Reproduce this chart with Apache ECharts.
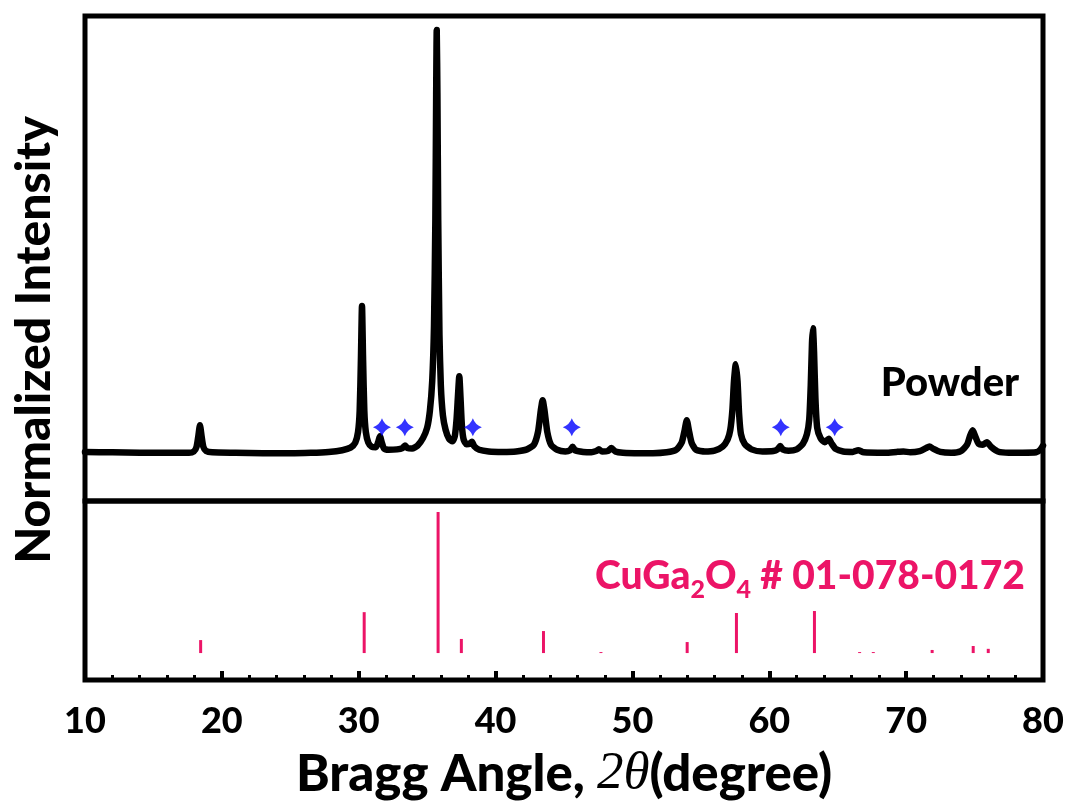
<!DOCTYPE html>
<html>
<head>
<meta charset="utf-8">
<title>XRD CuGa2O4 powder</title>
<script src="https://cdn.jsdelivr.net/npm/echarts@6.0.0/dist/echarts.min.js"></script>
<style>
  html, body { margin: 0; padding: 0; background: #fff; }
  #main { width: 1072px; height: 812px; }
</style>
</head>
<body>
<div id="main"></div>
<script>
// measured powder scan, [2theta, normalized intensity]
let powderScan = [
    [10,0.3],[12,0.2],[14,0.1],[16,0.1],[17.6,0.1],[17.95,0.4],[18.15,1.5],[18.28,4],[18.4,6.6],[18.52,4],
    [18.65,1.5],[18.85,0.5],[19.3,0.2],[21,0.1],[23,0],[25,0],[26.5,0.1],[27.8,0.3],[28.8,0.7],[29.4,1.3],
    [29.75,2.5],[29.95,5],[30.07,10],[30.16,22],[30.24,34.8],[30.32,22],[30.41,10],[30.52,5],[30.7,2.5],[30.95,1.5],
    [31.25,1.4],[31.42,2.6],[31.55,4],[31.68,2.6],[31.85,1.1],[32.2,0.8],[32.8,0.9],[33.2,1.2],[33.38,1.8],[33.56,1.2],
    [33.9,1.1],[34.3,1.8],[34.7,3.6],[35.0,6],[35.2,10],[35.37,17],[35.5,30],[35.6,55],[35.66,85],[35.7,100],
    [35.75,85],[35.81,55],[35.9,28],[36.0,16],[36.15,9],[36.35,5.5],[36.6,3.4],[36.85,2.8],[37.02,4],[37.15,8],
    [37.26,14],[37.35,18.2],[37.44,13],[37.54,6.5],[37.67,3.2],[37.88,2.1],[38.1,2.2],[38.27,2.7],[38.45,1.6],[38.8,0.8],
    [39.5,0.4],[40.5,0.3],[41.5,0.4],[42.3,0.9],[42.8,2],[43.1,5],[43.3,10],[43.44,12.5],[43.58,10],[43.78,5],
    [44.05,2],[44.5,0.8],[45.1,0.4],[45.45,0.7],[45.63,1.5],[45.8,0.7],[46.4,0.3],[47.0,0.2],[47.35,0.5],[47.55,0.9],
    [47.78,0.4],[48.2,0.5],[48.47,1.2],[48.75,0.4],[49.3,0.1],[50.5,0],[51.5,0],[52.5,0.2],[53.2,0.8],[53.6,2.5],
    [53.82,5.5],[53.97,7.8],[54.12,5.5],[54.32,2.5],[54.65,0.8],[55.3,0.4],[56.0,0.6],[56.6,1.6],[56.95,3.2],[57.15,5.5],
    [57.3,10],[57.42,17],[57.55,21],[57.68,17],[57.8,9],[57.93,4.5],[58.2,2.2],[58.7,0.9],[59.5,0.4],[60.3,0.5],
    [60.6,0.9],[60.8,1.7],[60.98,0.9],[61.4,0.6],[62.0,0.9],[62.45,2.2],[62.75,4.5],[62.92,8],[63.03,16],[63.12,26],
    [63.19,29.5],[63.27,24],[63.37,13],[63.5,6],[63.75,3.5],[64.05,2.6],[64.35,3.4],[64.55,2.3],[64.85,1],[65.4,0.4],
    [66.1,0.3],[66.5,0.7],[66.9,0.2],[68.5,0.1],[69.3,0.3],[69.8,0.4],[70.3,0.2],[71.0,0.5],[71.45,1.2],[71.7,1.6],
    [72.0,1.0],[72.5,0.3],[73.3,0.1],[74.0,0.5],[74.45,2],[74.68,4.2],[74.86,5.4],[75.05,4],[75.3,2.2],[75.6,2],
    [75.9,2.6],[76.2,1.5],[76.7,0.4],[77.5,0.1],[78.5,0.1],[79.5,0.2],[79.8,0.8],[80,1.8]
];

// reference card CuGa2O4 # 01-078-0172
let refAngles = [18.45, 30.4, 35.8, 37.5, 43.5, 47.7, 54.0, 57.6, 63.3, 66.6, 67.6, 71.9, 74.9, 76.0];
let refIntensity = [9.2, 29, 100, 10, 15.6, 0.7, 7.8, 28.4, 29.8, 0.7, 0.7, 2.2, 5, 3];

// impurity markers (blue stars)
let starAngles = [31.7, 33.37, 38.34, 45.57, 60.84, 64.78];
let starLevel = 6.1;

let xMin = 10, xMax = 80, xStep = 10;

let font = 'Lato';
let pink = '#ec1467';

let refData = refAngles.map(function (a, i) { return [a, refIntensity[i]]; });
let starData = starAngles.map(function (a) { return [a, starLevel]; });

let starPath = 'path://M0,-10 Q2.6,-2.6 10,0 Q2.6,2.6 0,10 Q-2.6,2.6 -10,0 Q-2.6,-2.6 0,-10 Z';

let myChart = echarts.init(document.getElementById('main'));

let option = {
    backgroundColor: '#fff',
    animation: false,
    grid: [
        { left: 85, right: 29, top: 16, height: 485, show: true, borderColor: '#000', borderWidth: 5 },
        { left: 85, right: 29, top: 501, height: 179, show: true, borderColor: '#000', borderWidth: 5 }
    ],
    xAxis: [
        { gridIndex: 0, type: 'value', min: xMin, max: xMax, interval: xStep, show: false },
        {
            gridIndex: 1, type: 'value', min: xMin, max: xMax, interval: xStep,
            axisLine: { show: false, onZero: false },
            splitLine: { show: false },
            axisTick: { show: true, inside: true, length: 9, lineStyle: { color: '#000', width: 4 } },
            minorTick: { show: true, splitNumber: 5, length: 5, lineStyle: { color: '#000', width: 3 } },
            axisLabel: { color: '#000', fontFamily: font, fontWeight: 900, fontSize: 36, margin: 23 },
            name: '{a|Bragg Angle, }{t|2\u03b8}{a|(degree)}',
            nameLocation: 'middle',
            nameGap: 68,
            nameTextStyle: {
                rich: {
                    a: { color: '#000', fontFamily: font, fontWeight: 900, fontSize: 51 },
                    t: { color: '#000', fontFamily: 'Liberation Serif', fontStyle: 'italic', fontSize: 53 }
                }
            }
        }
    ],
    yAxis: [
        { gridIndex: 0, type: 'value', min: -11.3, max: 103.3, show: false },
        { gridIndex: 1, type: 'value', min: -19.1, max: 107.8, show: false }
    ],
    series: [
        {
            name: 'Powder',
            type: 'line',
            xAxisIndex: 0, yAxisIndex: 0,
            data: powderScan,
            showSymbol: false,
            smooth: 0.2,
            lineStyle: { color: '#000', width: 6.5, join: 'round', cap: 'round' },
            z: 3
        },
        {
            name: 'stars',
            type: 'scatter',
            xAxisIndex: 0, yAxisIndex: 0,
            data: starData,
            symbol: starPath,
            symbolSize: 18,
            itemStyle: { color: '#0000ff' },
            z: 4
        },
        {
            name: 'CuGa2O4',
            type: 'bar',
            xAxisIndex: 1, yAxisIndex: 1,
            data: refData,
            barWidth: 3,
            itemStyle: { color: pink }
        }
    ],
    graphic: [
        {
            type: 'text',
            x: 35, y: 340,
            rotation: Math.PI / 2,
            style: {
                text: 'Normalized Intensity',
                fill: '#000',
                font: '900 48px Lato',
                align: 'center',
                verticalAlign: 'middle'
            }
        },
        {
            type: 'text',
            x: 950, y: 383,
            style: {
                text: 'Powder',
                fill: '#000',
                font: '900 40px Lato',
                align: 'center',
                verticalAlign: 'middle'
            }
        },
        {
            type: 'text',
            x: 810, y: 581,
            style: {
                text: '{m|CuGa}{s|2}{m|O}{s|4}{m| # 01-078-0172}',
                align: 'center',
                verticalAlign: 'middle',
                rich: {
                    m: { fill: pink, fontFamily: font, fontWeight: 900, fontSize: 39, verticalAlign: 'top', lineHeight: 48 },
                    s: { fill: pink, fontFamily: font, fontWeight: 900, fontSize: 25, verticalAlign: 'top', lineHeight: 48, padding: [20, 0, 0, 0] }
                }
            }
        }
    ]
};

if (option && typeof option === "object") {
    myChart.setOption(option, true);
}
</script>
</body>
</html>
